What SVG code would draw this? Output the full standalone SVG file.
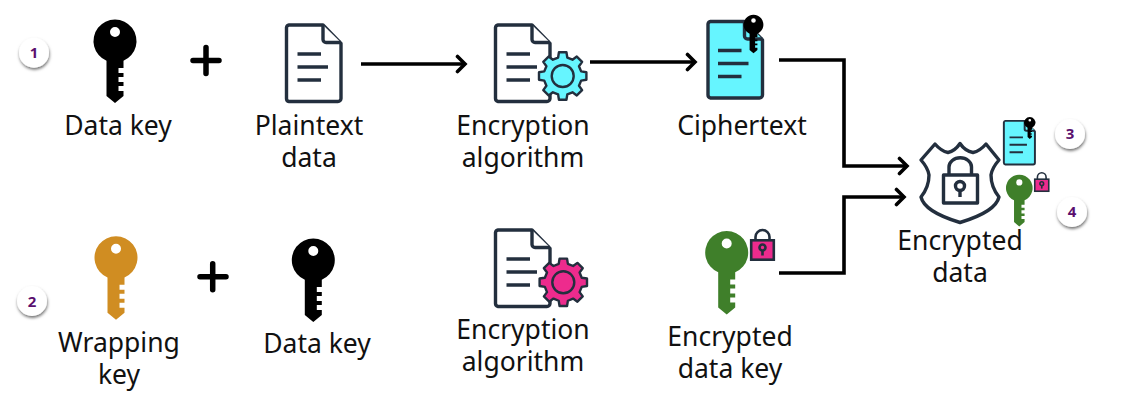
<svg xmlns="http://www.w3.org/2000/svg" xmlns:xlink="http://www.w3.org/1999/xlink" width="1122" height="416" viewBox="0 0 1122 416">
<style>
text{font-family:"Noto Sans","Open Sans","DejaVu Sans",sans-serif}
.label{font-size:26.500px;fill:#111;text-anchor:middle}
.num{font-size:15px;font-weight:700;fill:#5a0f6e;text-anchor:middle}
.badge{fill:#fff;filter:url(#sh)}
.ln{fill:none;stroke:#232f3e;stroke-width:3.400;stroke-linejoin:round}
.thin{fill:none;stroke:#232f3e;stroke-width:2.600}
.conn{fill:none;stroke:#000;stroke-width:3.600;stroke-linejoin:miter}
.plus{fill:none;stroke:#000;stroke-width:5.500;stroke-linecap:round}
</style>
<defs>
<filter id="sh" x="-40%" y="-40%" width="180%" height="180%"><feDropShadow dx="0.5" dy="2" stdDeviation="1.800" flood-color="#000" flood-opacity=".55"/></filter>
<marker id="arr" markerUnits="userSpaceOnUse" markerWidth="16" markerHeight="20" refX="12.500" refY="10" orient="auto"><path d="M5 2.500L12.500 10L5 17.500" fill="none" stroke="#000" stroke-width="3.600" stroke-linecap="round"/></marker>
<path id="key" fill-rule="evenodd" d="M-8.500 40.750A21.500 21.500 0 1 1 8.500 40.750V48H3.500V53H8.500V57H3.500V62H8.500V66H3.500V71H8.500V76L0 83L-8.500 76ZM0 7A5 5 0 1 0 0 17A5 5 0 1 0 0 7Z"/>
<g id="doc">
<path class="ln" style="fill:inherit" d="M4 1.500H38L56 20V75A3 3 0 0 1 53 78H4A3 3 0 0 1 1.500 75V4A3 3 0 0 1 4 1.500Z"/>
<path class="ln" style="fill:inherit" d="M38 1.500V16A3 3 0 0 0 41 19H56"/>
</g>
<g id="lines"><path class="ln" d="M12.500 30.500H36M12.500 43.500H43M12.500 56.500H36"/></g>
<polygon id="gear" stroke-width="2.400" stroke-linejoin="round" stroke="#232f3e" points="18.440,-4.600 23.700,-3.750 23.700,3.750 18.440,4.600 16.290,9.790 19.420,14.110 14.110,19.420 9.790,16.290 4.600,18.440 3.750,23.700 -3.750,23.700 -4.600,18.440 -9.790,16.290 -14.110,19.420 -19.420,14.110 -16.290,9.790 -18.440,4.600 -23.700,3.750 -23.700,-3.750 -18.440,-4.600 -16.290,-9.790 -19.420,-14.110 -14.110,-19.420 -9.790,-16.290 -4.600,-18.440 -3.750,-23.700 3.750,-23.700 4.600,-18.440 9.790,-16.290 14.110,-19.420 19.420,-14.110 16.290,-9.790"/>
<g id="lock">
<path class="thin" d="M5.500 10.500V7.500A7 7 0 0 1 19.500 7.500V10.500"/>
<rect x="1.200" y="10.800" width="22.600" height="19.400" fill="#ed2b8d" stroke="#232f3e" stroke-width="2.600"/>
<circle cx="12.500" cy="18" r="3" fill="none" stroke="#232f3e" stroke-width="2.600"/>
<path class="thin" d="M12.500 21V26"/>
</g>
<g id="cipher">
<use href="#doc" fill="#66f5ff"/>
<g transform="translate(-1 0)"><use href="#lines"/></g>
<use href="#key" transform="translate(47 -5) scale(.46)" fill="#000"/>
</g>
</defs>
<rect width="1122" height="416" fill="#fff"/>

<g id="connectors">
<path class="conn" d="M361 64H465" marker-end="url(#arr)"/>
<path class="conn" d="M590 62H695" marker-end="url(#arr)"/>
<path class="conn" d="M779 60H844V166H907" marker-end="url(#arr)"/>
<path class="conn" d="M779 273H844V197H904" marker-end="url(#arr)"/>
</g>

<g id="badge-1"><circle class="badge" cx="34" cy="52.700" r="15"/><text class="num" x="34" y="58">1</text></g>
<g id="badge-2"><circle class="badge" cx="32" cy="301" r="15"/><text class="num" x="32" y="306.500">2</text></g>
<g id="badge-3"><circle class="badge" cx="1070" cy="134" r="15"/><text class="num" x="1070" y="139">3</text></g>
<g id="badge-4"><circle class="badge" cx="1072" cy="212" r="15"/><text class="num" x="1072" y="217">4</text></g>

<g id="data-key-1"><use href="#key" x="115" y="20" fill="#000"/><text class="label" x="118" y="135">Data key</text></g>
<path id="plus-1" class="plus" d="M193 60.500H219M206 47.500V73.500"/>
<g id="plaintext"><g transform="translate(285 23.500)"><use href="#doc" fill="#fff"/><use href="#lines"/></g><text class="label" x="309" y="135">Plaintext</text><text class="label" x="309" y="167">data</text></g>
<g id="algorithm-1"><g transform="translate(494 23.500)"><use href="#doc" fill="#fff"/><use href="#lines"/></g><g transform="translate(562.700 76)"><use href="#gear" fill="#66f5ff"/><circle r="11" fill="none" stroke="#232f3e" stroke-width="2.400"/></g><text class="label" x="523" y="135">Encryption</text><text class="label" x="523" y="167">algorithm</text></g>
<g id="ciphertext"><use href="#cipher" x="706.500" y="20"/><text class="label" x="742" y="135">Ciphertext</text></g>

<g id="wrapping-key"><use href="#key" x="116" y="236.700" fill="#d08d22"/><text class="label" x="119" y="352">Wrapping</text><text class="label" x="119" y="384">key</text></g>
<path id="plus-2" class="plus" d="M200 276.700H226M212.700 263.700V289.700"/>
<g id="data-key-2"><use href="#key" x="313.300" y="239" fill="#000"/><text class="label" x="317" y="353">Data key</text></g>
<g id="algorithm-2"><g transform="translate(494 228.500)"><use href="#doc" fill="#fff"/><use href="#lines"/></g><g transform="translate(563.300 282.300)"><use href="#gear" fill="#ed2b8d"/><circle r="11" fill="none" stroke="#232f3e" stroke-width="2.400"/></g><text class="label" x="523" y="339">Encryption</text><text class="label" x="523" y="371">algorithm</text></g>
<g id="encrypted-data-key"><use href="#key" x="726.700" y="231.500" fill="#3f7f2a"/><use href="#lock" x="750" y="229.500"/><text class="label" x="730" y="346">Encrypted</text><text class="label" x="730" y="378">data key</text></g>

<g id="encrypted-data">
<path class="ln" d="M935 144Q941 151 948 152.500Q955 151 960 143.500Q965 151 973 152.500Q980 151 986 144L999 160Q992 168 991 175Q991 187 999 197C996 210 975 218 960 222.500C945 218 924 210 921 197Q929 187 929 175Q928 168 921 160Z"/>
<path class="ln" d="M949 175V167A11 9 0 0 1 971.500 167V175"/>
<rect class="ln" x="943.500" y="175" width="34" height="28"/>
<circle class="ln" cx="960" cy="186" r="4.500"/>
<path class="ln" d="M960 190.500V197"/>
<use href="#cipher" transform="translate(1003 120) scale(.57)"/>
<use href="#key" transform="translate(1019.300 175) scale(.62)" fill="#3f7f2a"/>
<use href="#lock" transform="translate(1034 172.500) scale(.62)"/>
<text class="label" x="960" y="250">Encrypted</text><text class="label" x="960" y="282">data</text>
</g>
</svg>
